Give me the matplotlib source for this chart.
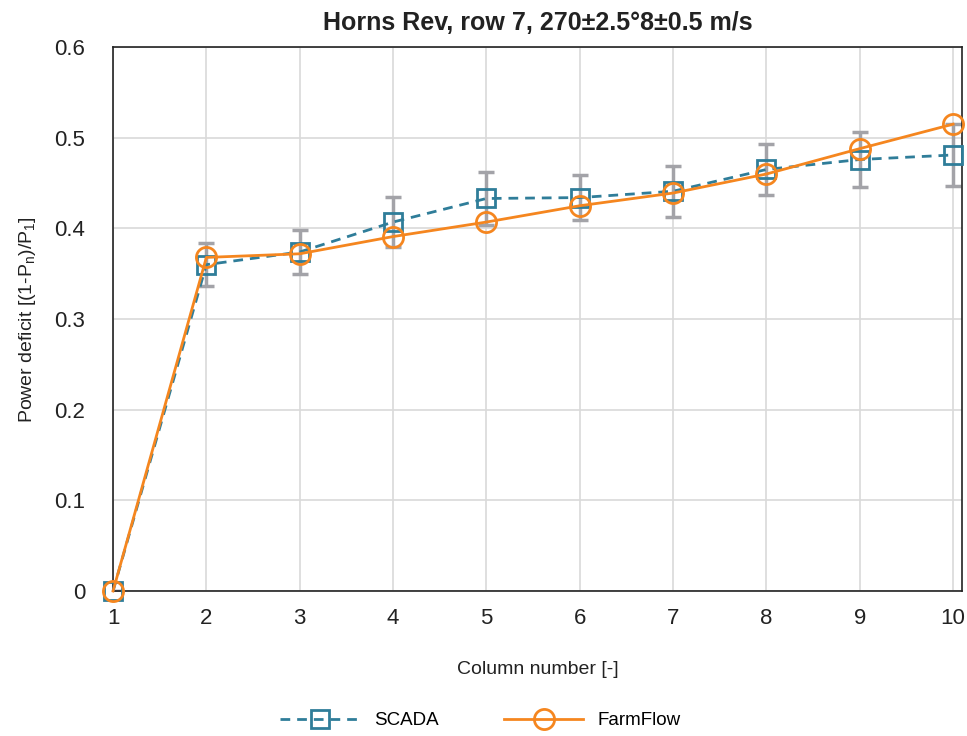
import numpy as np
import matplotlib
matplotlib.use("Agg")
import matplotlib.pyplot as plt

plt.rcParams['font.family'] = ['Liberation Sans', 'DejaVu Sans']
plt.rcParams['mathtext.fontset'] = 'custom'
plt.rcParams['mathtext.rm'] = 'Liberation Sans'

# data
columns = [1, 2, 3, 4, 5, 6, 7, 8, 9, 10]
scada = [0.0, 0.360, 0.374, 0.407, 0.433, 0.434, 0.441, 0.465, 0.476, 0.481]
scada_err = [0.0, 0.024, 0.024, 0.028, 0.029, 0.025, 0.028, 0.028, 0.030, 0.034]
farmflow = [0.0, 0.368, 0.372, 0.391, 0.407, 0.425, 0.439, 0.460, 0.488, 0.515]

blue = '#2f7d99'
orange = '#f5861f'
grey = '#a3a3a8'

fig = plt.figure(figsize=(9.67, 7.36), dpi=100)
ax = fig.add_axes([0.1169, 0.197, 0.878, 0.739])

ax.errorbar(columns, scada, yerr=scada_err, fmt='none', ecolor=grey,
            elinewidth=2.5, capsize=5.5, capthick=2.5, zorder=2)
ax.plot(columns, scada, linestyle=(0, (3.5, 2.5)), color=blue, lw=2,
        marker='s', markersize=13.5, markerfacecolor='none',
        markeredgewidth=2, markeredgecolor=blue, label='SCADA', zorder=3,
        clip_on=False)
ax.plot(columns, farmflow, '-', color=orange, lw=2,
        marker='o', markersize=14.5, markerfacecolor='none',
        markeredgewidth=2, markeredgecolor=orange, label='FarmFlow', zorder=4,
        clip_on=False)

ax.set_xlim(1, 10.096)
ax.set_ylim(0, 0.6)
ax.set_xticks(columns)
ax.set_yticks([0, 0.1, 0.2, 0.3, 0.4, 0.5, 0.6])
ax.set_yticklabels(['0', '0.1', '0.2', '0.3', '0.4', '0.5', '0.6'])
ax.grid(True, color='#d9d9d9', lw=1.2)
ax.set_axisbelow(True)
for s in ax.spines.values():
    s.set_color('#222222')
    s.set_linewidth(1.2)
ax.tick_params(length=0, labelsize=16, pad=12, colors='#222222')
ax.tick_params(axis='y', pad=20)

ax.set_title('Horns Rev, row 7, 270±2.5°8±0.5 m/s', fontsize=18,
             fontweight='bold', color='#222222', pad=12)
ax.set_xlabel('Column number [-]', fontsize=14, labelpad=23, color='#222222')
ax.set_ylabel(r'Power deficit [(1-P$_\mathregular{n}$)/P$_\mathregular{1}$]',
              fontsize=14, labelpad=12, color='#222222')

fig.legend(loc='center', bbox_to_anchor=(0.497, 0.021), ncol=2, frameon=False,
           fontsize=13.5, handlelength=4.2, columnspacing=3.5)

fig.savefig('out.png', dpi=100)
